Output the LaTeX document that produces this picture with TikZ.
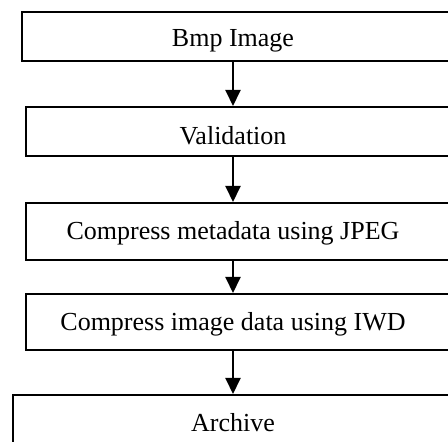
\documentclass[tikz,border=0pt]{standalone}
\usepackage{fontspec}
\setmainfont{Liberation Serif}
\usetikzlibrary{arrows.meta}
\begin{document}
\begin{tikzpicture}[x=1pt,y=1pt,
  stagebox/.style={draw=black, line width=1.7pt, rectangle, inner sep=0pt, anchor=north west, minimum width=450pt},
  stagetext/.style={anchor=base, inner sep=0pt, font=\fontsize{26}{30}\selectfont},
  flow/.style={line width=2pt, -{Triangle[width=15pt,length=16pt]}}]
\useasboundingbox (0,0) rectangle (448,442);
\clip (0,0) rectangle (448,442);
% stages of the pipeline, top to bottom
\node[stagebox, minimum height=49pt] (b1) at (21,431) {};
\node[stagebox, minimum height=49pt] (b2) at (25,336) {};
\node[stagebox, minimum height=57pt] (b3) at (25,240) {};
\node[stagebox, minimum height=56pt] (b4) at (25,149) {};
\node[stagebox, minimum height=60pt] (b5) at (12,48) {};
% labels
\node[stagetext] (t1) at (233,395) {Bmp Image};
\node[stagetext] (t2) at (233,297) {Validation};
\node[stagetext] (t3) at (233,202) {Compress metadata using JPEG};
\node[stagetext] (t4) at (233,111) {Compress image data using IWD};
\node[stagetext] (t5) at (233,10) {Archive};
% flow between stages
\coordinate (axis) at (233,0);
\draw[flow] (b1.south -| axis) -- (b2.north -| axis);
\draw[flow] (b2.south -| axis) -- (b3.north -| axis);
\draw[flow] (b3.south -| axis) -- (b4.north -| axis);
\draw[flow] (b4.south -| axis) -- (b5.north -| axis);
\end{tikzpicture}
\end{document}
